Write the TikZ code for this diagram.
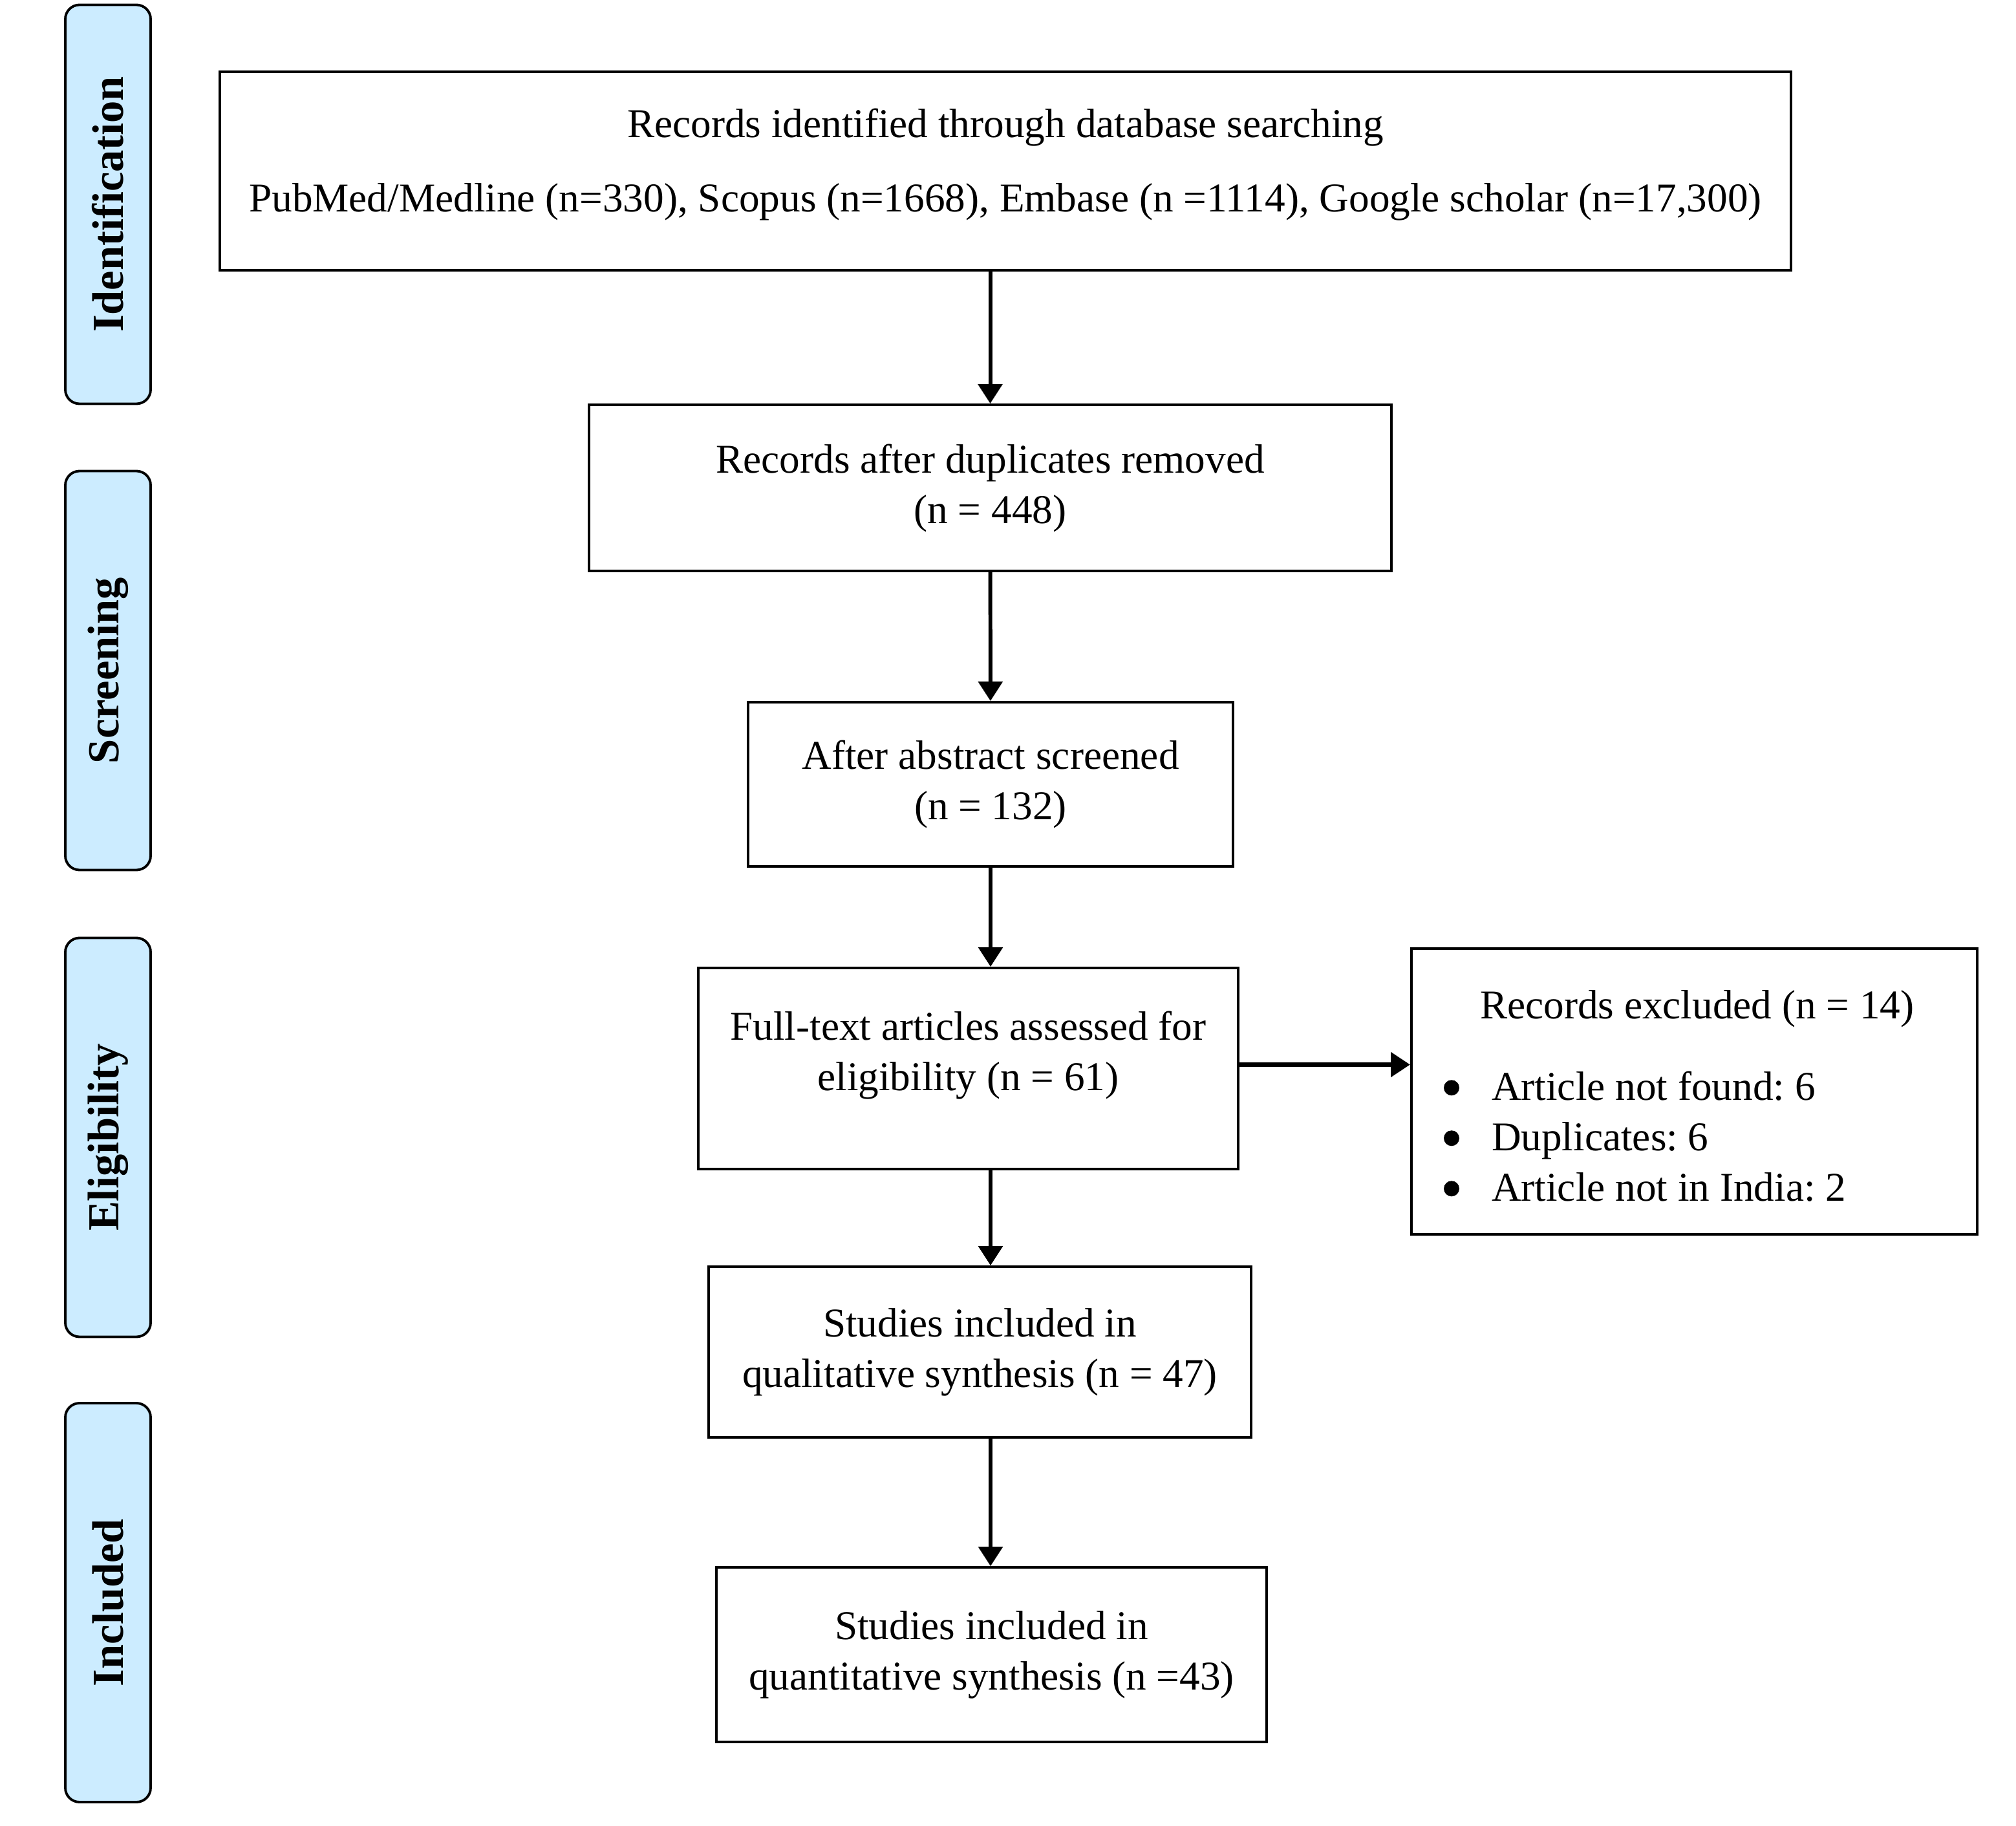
\documentclass[tikz,border=0pt]{standalone}
\usepackage{fontspec}
\setmainfont{Liberation Serif}
\usepackage{tikz}
\usetikzlibrary{positioning, arrows.meta}
\definecolor{stagefill}{RGB}{204,236,255}
\newcommand{\bigdot}{\makebox[0.74cm][l]{\raisebox{0.07cm}{\tikz\fill (0,0) circle (0.12cm);}}}
\tikzset{
  flowbox/.style={rectangle, draw, line width=1.1pt, align=center, inner sep=0pt,
    font=\fontsize{18}{22.2}\selectfont},
  stagebox/.style={rectangle, draw, line width=1.1pt, rounded corners=0.22cm, fill=stagefill,
    rotate=90, minimum width=6.17cm, minimum height=1.32cm, inner sep=0pt,
    font=\fontsize{19.5}{22}\selectfont\bfseries},
  flowarrow/.style={line width=1.7pt, -{Triangle[width=0.37cm, length=0.30cm]}}
}
\begin{document}
\begin{tikzpicture}
    \useasboundingbox (0,0) rectangle (31.18,-28.24);
    % stages
    \node (identification) at (1.67,-3.16)  [stagebox] {Identification};
    \node (screening)      at (1.67,-10.37) [stagebox] {Screening};
    \node (eligibility)    at (1.67,-17.59) [stagebox] {Eligibility};
    \node (included)       at (1.67,-24.785)[stagebox] {Included};
    % flow
    \node (records)    at (15.55,-2.645)  [flowbox, minimum width=24.30cm, minimum height=3.07cm]
        {Records identified through database searching\\[10.5pt]
         PubMed/Medline (n=330), Scopus (n=1668), Embase (n =1114), Google scholar (n=17,300)\\[-12.5pt]\mbox{}};
    \node (dedup)      at (15.315,-7.545) [flowbox, minimum width=12.41cm, minimum height=2.57cm]
        {Records after duplicates removed\\(n = 448)};
    \node (abstract)   at (15.32,-12.13)  [flowbox, minimum width=7.50cm, minimum height=2.54cm]
        {After abstract screened\\(n = 132)};
    \node (fulltext)   at (14.975,-16.525)[flowbox, minimum width=8.35cm, minimum height=3.11cm]
        {Full-text articles assessed for\\eligibility (n = 61)\\[-6.8pt]\mbox{}};
    \node (excluded)   at (26.205,-16.88) [flowbox, minimum height=4.42cm, text width=7.75cm,
        inner xsep=0.5cm, align=left]
        {\spaceskip=0pt\xspaceskip=0pt\frenchspacing
         \rule{0pt}{16.5pt}\hspace*{0.56cm}Records excluded (n = 14)\\[13.5pt]
         \bigdot Article not found: 6\\
         \bigdot Duplicates: 6\\
         \bigdot Article not in India: 2};
    \node (qualitative) at (15.155,-20.91) [flowbox, minimum width=8.39cm, minimum height=2.64cm]
        {Studies included in\\qualitative synthesis (n = 47)};
    \node (quantitative) at (15.335,-25.59)[flowbox, minimum width=8.51cm, minimum height=2.70cm]
        {Studies included in\\quantitative synthesis (n =43)};
    \draw[flowarrow] (records.south -| dedup) -- (dedup);
    \draw[flowarrow] (dedup) -- (abstract);
    \draw[flowarrow] (abstract.south) -- (fulltext.north -| abstract.south);
    \draw[flowarrow] (fulltext.south -| abstract.south) -- (qualitative.north -| abstract.south);
    \draw[flowarrow] (qualitative.south -| abstract.south) -- (quantitative.north -| abstract.south);
    \draw[flowarrow, line width=2.2pt] ([yshift=0.06cm]fulltext.east) -- ([yshift=0.06cm]fulltext.east -| excluded.west);
\end{tikzpicture}
\end{document}
